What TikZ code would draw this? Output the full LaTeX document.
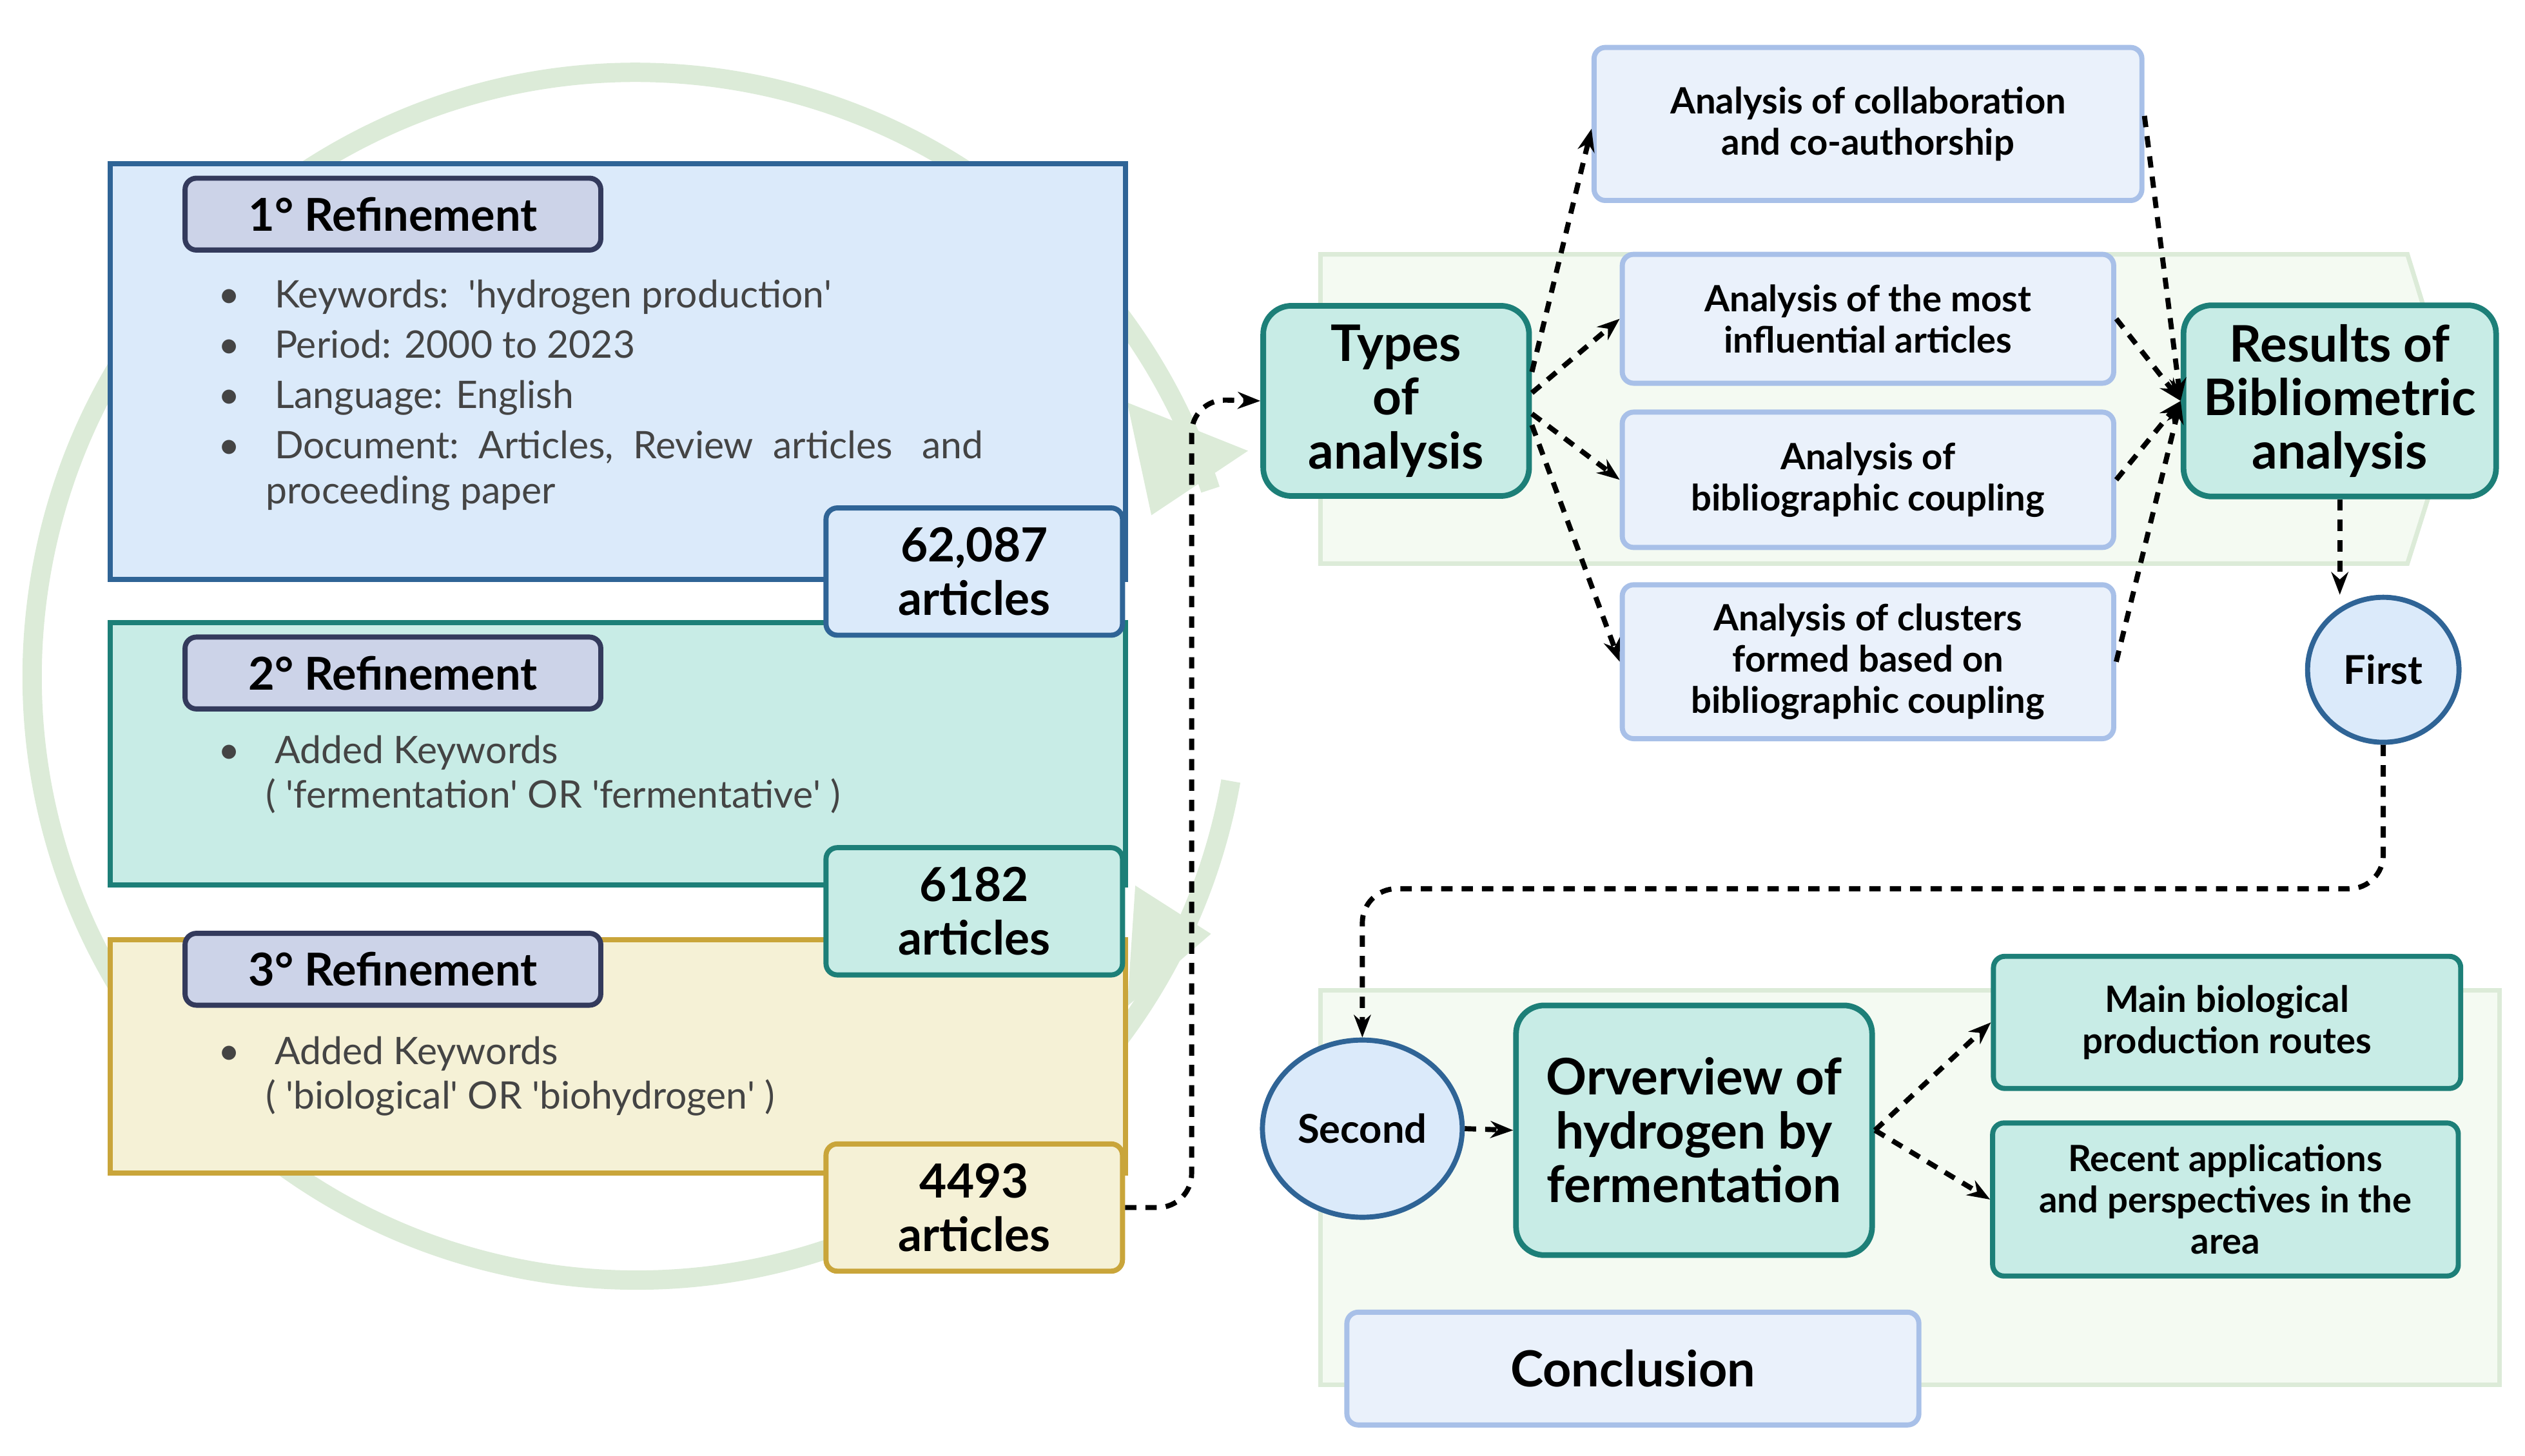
\documentclass[tikz,border=0pt]{standalone}
\usepackage{fontspec}
\setmainfont{Lato}
\usetikzlibrary{arrows.meta,shapes.geometric}
\definecolor{ringgreen}{HTML}{DCEBD8}
\definecolor{bgpale}{HTML}{F4FAF2}
\definecolor{bluefill}{HTML}{DBEAFA}
\definecolor{bluedraw}{HTML}{2F6496}
\definecolor{tealfill}{HTML}{C8ECE6}
\definecolor{tealdraw}{HTML}{1D7F78}
\definecolor{goldfill}{HTML}{F5F1D6}
\definecolor{golddraw}{HTML}{C9A53A}
\definecolor{titlefill}{HTML}{CCD3E8}
\definecolor{titledraw}{HTML}{333A5C}
\definecolor{palefill}{HTML}{EAF1FB}
\definecolor{paledraw}{HTML}{A8C0E8}
\definecolor{txtgrey}{HTML}{444444}
\newcommand{\q}{\textquotesingle}
\begin{document}
\begin{tikzpicture}[
  x=0.01cm, y=-0.01cm,
  refine/.style = {draw, line width=0.9pt, anchor=north west, inner sep=0pt},
  title/.style = {draw=titledraw, fill=titlefill, line width=0.9pt, rounded corners=2pt,
                  minimum width=2.58cm, minimum height=0.4cm, font=\fontsize{8}{9}\selectfont\bfseries},
  count/.style = {draw, line width=0.9pt, rounded corners=2pt, minimum width=1.84cm,
                  minimum height=0.79cm, align=center, font=\fontsize{8.3}{9.5}\selectfont\bfseries},
  bullets/.style = {anchor=north west, align=left, text=txtgrey, inner sep=0pt,
                  font=\fontsize{6.7}{7.9}\selectfont},
  part/.style = {draw=paledraw, fill=palefill, line width=0.9pt, rounded corners=2pt,
                  align=center, font=\fontsize{6.4}{7.3}\selectfont\bfseries},
  big/.style = {draw=tealdraw, fill=tealfill, line width=1pt, rounded corners=5pt,
                  align=center, font=\fontsize{8.9}{9.5}\selectfont\bfseries},
  round/.style = {draw=bluedraw, fill=bluefill, line width=0.9pt, ellipse, align=center,
                  inner sep=0pt, font=\fontsize{7}{8}\selectfont\bfseries},
  flow/.style = {dash pattern=on 2pt off 1.6pt, line width=0.9pt, -{Stealth[length=4pt]}, rounded corners=6pt}
]
\useasboundingbox (0,0) rectangle (1568,904);

% background shapes
\draw[ringgreen, line width=0.12cm] (395,420) ++(10:375) arc (10:342:375);
\fill[ringgreen] (700,250) -- (775,280) -- (715,320) -- cycle;
\fill[ringgreen] (705,550) -- (752,580) -- (700,625) -- cycle;
\draw[ringgreen, fill=bgpale, line width=0.8pt] (820,158) -- (1495,158) -- (1525,255) -- (1495,350) -- (820,350) -- cycle;
\draw[ringgreen, fill=bgpale, line width=0.8pt] (820,615) rectangle (1552,860);

% refinement boxes
\node[refine, draw=bluedraw, fill=bluefill, minimum width=6.3cm, minimum height=2.58cm] (r1) at (67,100) {};
\node[title] (t1) at (244,133) {1° Refinement};
\node[bullets] (b1) at (135,173) {%
  \textbullet\hspace{0.9em}Keywords:\ \ \q hydrogen production\q\\[0.15em]
  \textbullet\hspace{0.9em}Period: 2000 to 2023\\[0.15em]
  \textbullet\hspace{0.9em}Language: English\\[0.15em]
  \textbullet\hspace{0.9em}Document:\ \ Articles,\ \ Review\ \ articles\ \ \ and\\
  \hspace*{1.25em}proceeding paper};

\node[refine, draw=tealdraw, fill=tealfill, minimum width=6.3cm, minimum height=1.63cm] (r2) at (67,385) {};
\node[title] (t2) at (244,418) {2° Refinement};
\node[bullets] (b2) at (135,456) {%
  \textbullet\hspace{0.9em}Added Keywords\\
  \hspace*{1.25em}( \q fermentation\q\ OR \q fermentative\q\ )};

\node[refine, draw=golddraw, fill=goldfill, minimum width=6.3cm, minimum height=1.45cm] (r3) at (67,582) {};
\node[title] (t3) at (244,602) {3° Refinement};
\node[bullets] (b3) at (135,643) {%
  \textbullet\hspace{0.9em}Added Keywords\\
  \hspace*{1.25em}( \q biological\q\ OR \q biohydrogen\q\ )};

\node[count, draw=bluedraw, fill=bluefill] (c1) at (605,355) {62,087\\articles};
\node[count, draw=tealdraw, fill=tealfill] (c2) at (605,566) {6182\\articles};
\node[count, draw=golddraw, fill=goldfill] (c3) at (605,750) {4493\\articles};

% analysis
\node[big, minimum width=1.65cm, minimum height=1.18cm] (types) at (867,249) {Types\\of\\analysis};
\node[part, minimum width=3.4cm, minimum height=0.95cm] (collab) at (1160,77) {Analysis of collaboration\\and co-authorship};
\node[part, minimum width=3.05cm, minimum height=0.8cm] (infl) at (1160,198) {Analysis of the most\\influential articles};
\node[part, minimum width=3.05cm, minimum height=0.84cm] (coupl) at (1160,298) {Analysis of\\bibliographic coupling};
\node[part, minimum width=3.05cm, minimum height=0.93cm] (clust) at (1160,411) {Analysis of clusters\\formed based on\\bibliographic coupling};
\node[big, minimum width=1.94cm, minimum height=1.18cm] (results) at (1453,249) {Results of\\Bibliometric\\analysis};
\node[round, minimum width=0.94cm, minimum height=0.9cm] (first) at (1480,416) {First};

% second part
\node[round, minimum width=1.24cm, minimum height=1.1cm] (second) at (846,701) {Second};
\node[big, minimum width=2.21cm, minimum height=1.55cm] (over) at (1052,702) {Orverview of\\hydrogen by\\fermentation};
\node[part, draw=tealdraw, fill=tealfill, minimum width=2.9cm, minimum height=0.82cm] (routes) at (1383,635) {Main biological\\production routes};
\node[part, draw=tealdraw, fill=tealfill, minimum width=2.89cm, minimum height=0.95cm] (recent) at (1382,745) {Recent applications\\and perspectives in the\\area};
\node[part, minimum width=3.55cm, minimum height=0.7cm, font=\fontsize{8.8}{10}\selectfont\bfseries] (concl) at (1014,850) {Conclusion};

% connectors
\draw[flow] (c3.east) -- (740,750) -- (740,248) -- (types.west);
\draw[flow] (types.east) ++(0,-18) -- (collab.west |- 0,80);
\draw[flow] (types.east) ++(0,-5) -- (infl.west);
\draw[flow] (types.east) ++(0,8) -- (coupl.west);
\draw[flow] (types.east) ++(0,15) -- (clust.west);
\draw[flow] (collab.east) ++(0,-5) -- (results.west);
\draw[flow] (infl.east) -- (results.west);
\draw[flow] (coupl.east) -- (results.west);
\draw[flow] (clust.east) -- (results.west);
\draw[flow] (results.south) -- (first.north -| results.south);
\draw[flow] (first.south) -- (1480,552) -- (846,552) -- (second.north);
\draw[flow] (second.east) -- (over.west);
\draw[flow] (over.east) -- (routes.west);
\draw[flow] (over.east) -- (recent.west);
\end{tikzpicture}
\end{document}
